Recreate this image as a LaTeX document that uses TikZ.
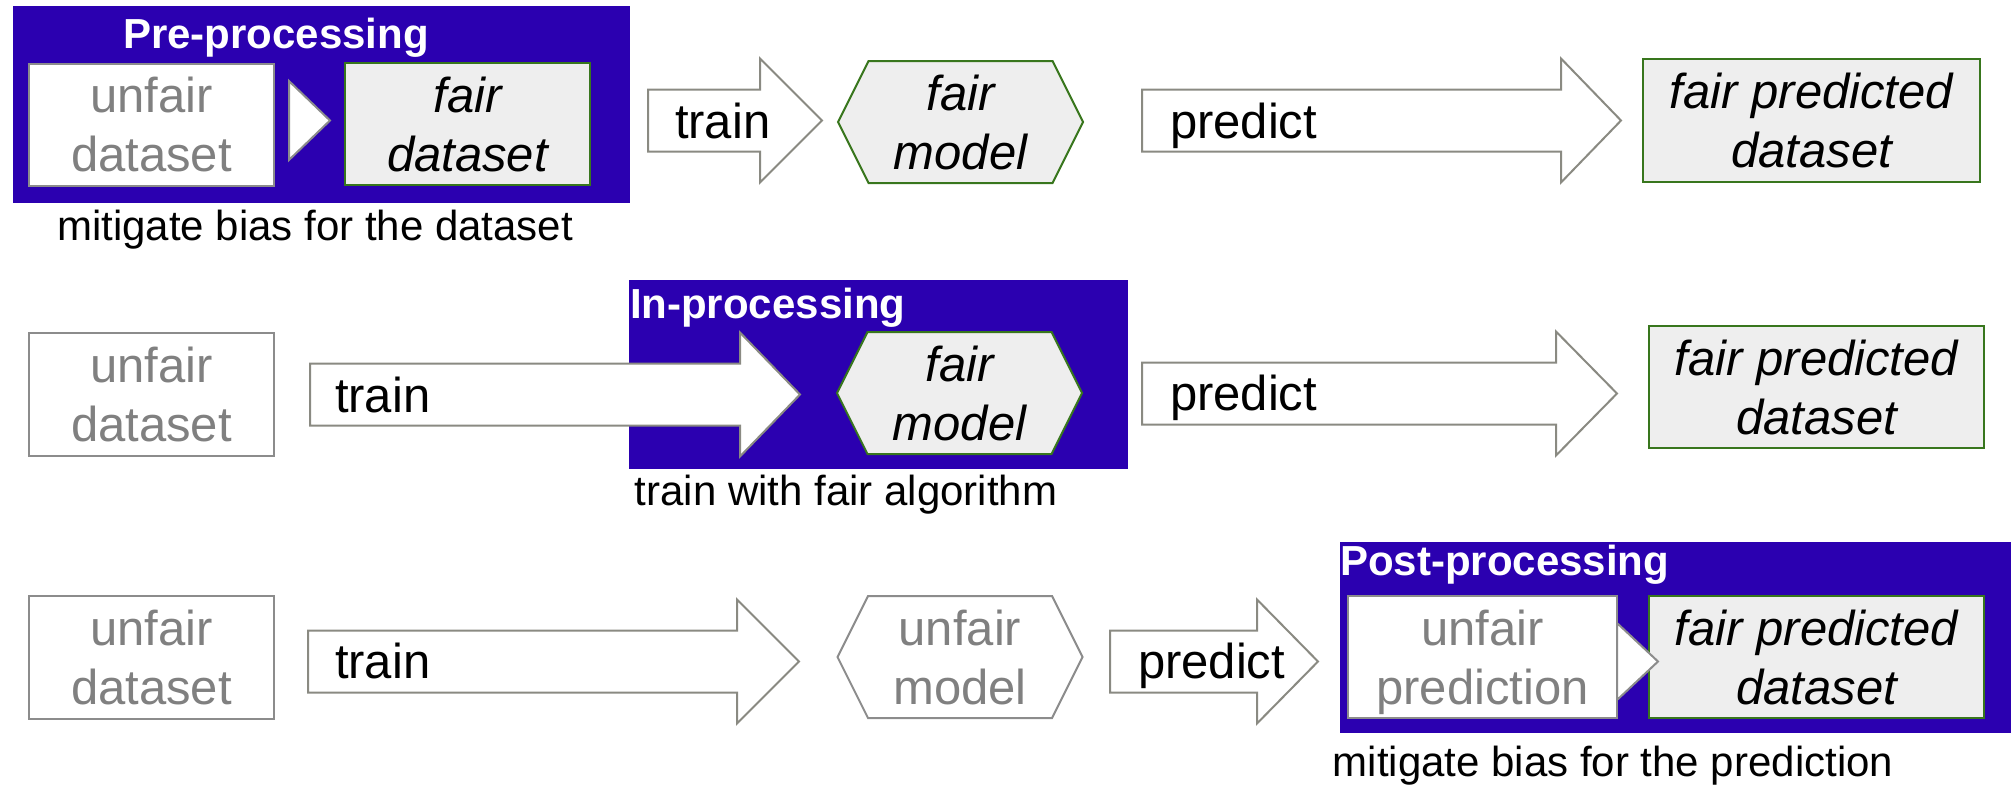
\documentclass[tikz,border=0pt]{standalone}
\usepackage{fontspec}
\setmainfont{Liberation Sans}

\definecolor{procblue}{RGB}{43,0,176}
\definecolor{edgegrey}{RGB}{140,140,140}
\definecolor{textgrey}{RGB}{128,128,128}
\definecolor{fairgreen}{RGB}{56,118,29}
\definecolor{fairfill}{RGB}{238,238,238}
\definecolor{arrowedge}{RGB}{138,138,130}

\tikzset{
  every node/.style={inner sep=0pt, outer sep=0pt},
  stagebg/.style={fill=procblue, draw=none},
  stagetitle/.style={anchor=base west, text=white,
    font=\fontsize{42}{50}\selectfont\bfseries},
  stagenote/.style={anchor=base, text=black,
    font=\fontsize{42}{50}\selectfont},
  boxtext/.style={align=center, font=\fontsize{49}{59}\selectfont},
  unfairbox/.style={boxtext, draw=edgegrey, line width=2pt, fill=white,
    text=textgrey, minimum height=122pt},
  fairbox/.style={boxtext, draw=fairgreen, line width=2pt, fill=fairfill,
    text=black, font=\fontsize{49}{59}\selectfont\itshape, minimum height=122pt},
  unfairhex/.style={draw=edgegrey, line width=2pt, fill=white},
  fairhex/.style={draw=fairgreen, line width=2pt, fill=fairfill},
  unfairhextext/.style={boxtext, text=textgrey},
  fairhextext/.style={boxtext, text=black, font=\fontsize{49}{59}\selectfont\itshape},
  blockarrow/.style={draw=arrowedge, line width=2pt, fill=white, line join=miter},
  arrowlabel/.style={anchor=base west, text=black,
    font=\fontsize{49}{59}\selectfont},
  steparrow/.style={draw=edgegrey, line width=2pt, fill=white},
}

% hexagon outline with its text node: name, centre x, centre y, outline style, text style, text
\newcommand\modelhex[6]{%
  \path[#4] ({#2-122.5},#3) -- ({#2-92},{#3-61}) -- ({#2+92},{#3-61})
    -- ({#2+122.5},#3) -- ({#2+92},{#3+61}) -- ({#2-92},{#3+61}) -- cycle;
  \node[#5] (#1) at (#2,#3) {#6};}

% block arrow: tail x, head x, tip x, centre y
\newcommand\bigarrow[4]{%
  \path[blockarrow] (#1,{#4-31}) -- (#2,{#4-31}) -- (#2,{#4-62}) -- (#3,#4)
    -- (#2,{#4+62}) -- (#2,{#4+31}) -- (#1,{#4+31}) -- cycle;}

\begin{document}
\begin{tikzpicture}[x=1pt, y=-1pt]
\useasboundingbox (0,0) rectangle (2011,785);

% ---------- pre-processing row ----------
\node[stagebg, minimum width=617pt, minimum height=197pt] (pre) at (321.5,104.5) {};
\node[stagetitle] (pretitle) at (123,48) {Pre-processing};
\node[unfairbox, minimum width=245pt] (u1) at (151.5,124.5) {unfair\\dataset};
\node[fairbox, minimum width=245pt] (f1) at (467.5,124) {fair\\dataset};
\path[steparrow] (289,81) -- (330,120.5) -- (289,160) -- cycle;
\node[stagenote] (prenote) at (315,240) {mitigate bias for the dataset};

\bigarrow{648}{760}{822}{120.5}
\node[arrowlabel] (train1) at (675,138) {train};
\modelhex{m1}{960.5}{122}{fairhex}{fairhextext}{fair\\model}
\bigarrow{1142}{1561}{1621}{120.5}
\node[arrowlabel] (pred1) at (1170,138) {predict};
\node[fairbox, minimum width=337pt, minimum height=123pt] (fp1) at (1811.5,120.5) {fair predicted\\dataset};

% ---------- in-processing row ----------
\node[unfairbox, minimum width=245pt, minimum height=123pt] (u2) at (151.5,394.5) {unfair\\dataset};
\node[stagebg, minimum width=499pt, minimum height=189pt] (inproc) at (878.5,374.5) {};
\node[stagetitle] (intitle) at (630,318) {In-processing};
\bigarrow{310}{740}{800}{394.5}
\node[arrowlabel] (train2) at (335,412) {train};
\modelhex{m2}{959.5}{393}{fairhex}{fairhextext}{fair\\model}
\node[stagenote] (innote) at (846,505) {train with fair algorithm};
\bigarrow{1142}{1556}{1617}{393.5}
\node[arrowlabel] (pred2) at (1170,410) {predict};
\node[fairbox, minimum width=335pt] (fp2) at (1816.5,387) {fair predicted\\dataset};

% ---------- post-processing row ----------
\node[unfairbox, minimum width=245pt, minimum height=123pt] (u3) at (151.5,657.5) {unfair\\dataset};
\bigarrow{308}{737}{799}{661.5}
\node[arrowlabel] (train3) at (335,678) {train};
\modelhex{m3}{960}{657}{unfairhex}{unfairhextext}{unfair\\model}
\bigarrow{1110}{1257}{1318}{661.5}
\node[arrowlabel] (pred3) at (1138,678) {predict};
\node[stagebg, minimum width=671pt, minimum height=191pt] (post) at (1675.5,637.5) {};
\node[stagetitle] (posttitle) at (1340,575) {Post-processing};
\node[unfairbox, minimum width=269pt] (up3) at (1482.5,657) {unfair\\\smash{prediction}};
\node[fairbox, minimum width=335pt] (fp3) at (1816.5,657) {fair predicted\\dataset};
\path[steparrow] (1617,623) -- (1658,661.5) -- (1617,700) -- cycle;
\node[stagenote] (postnote) at (1613,776) {mitigate bias for the prediction};
\end{tikzpicture}
\end{document}
